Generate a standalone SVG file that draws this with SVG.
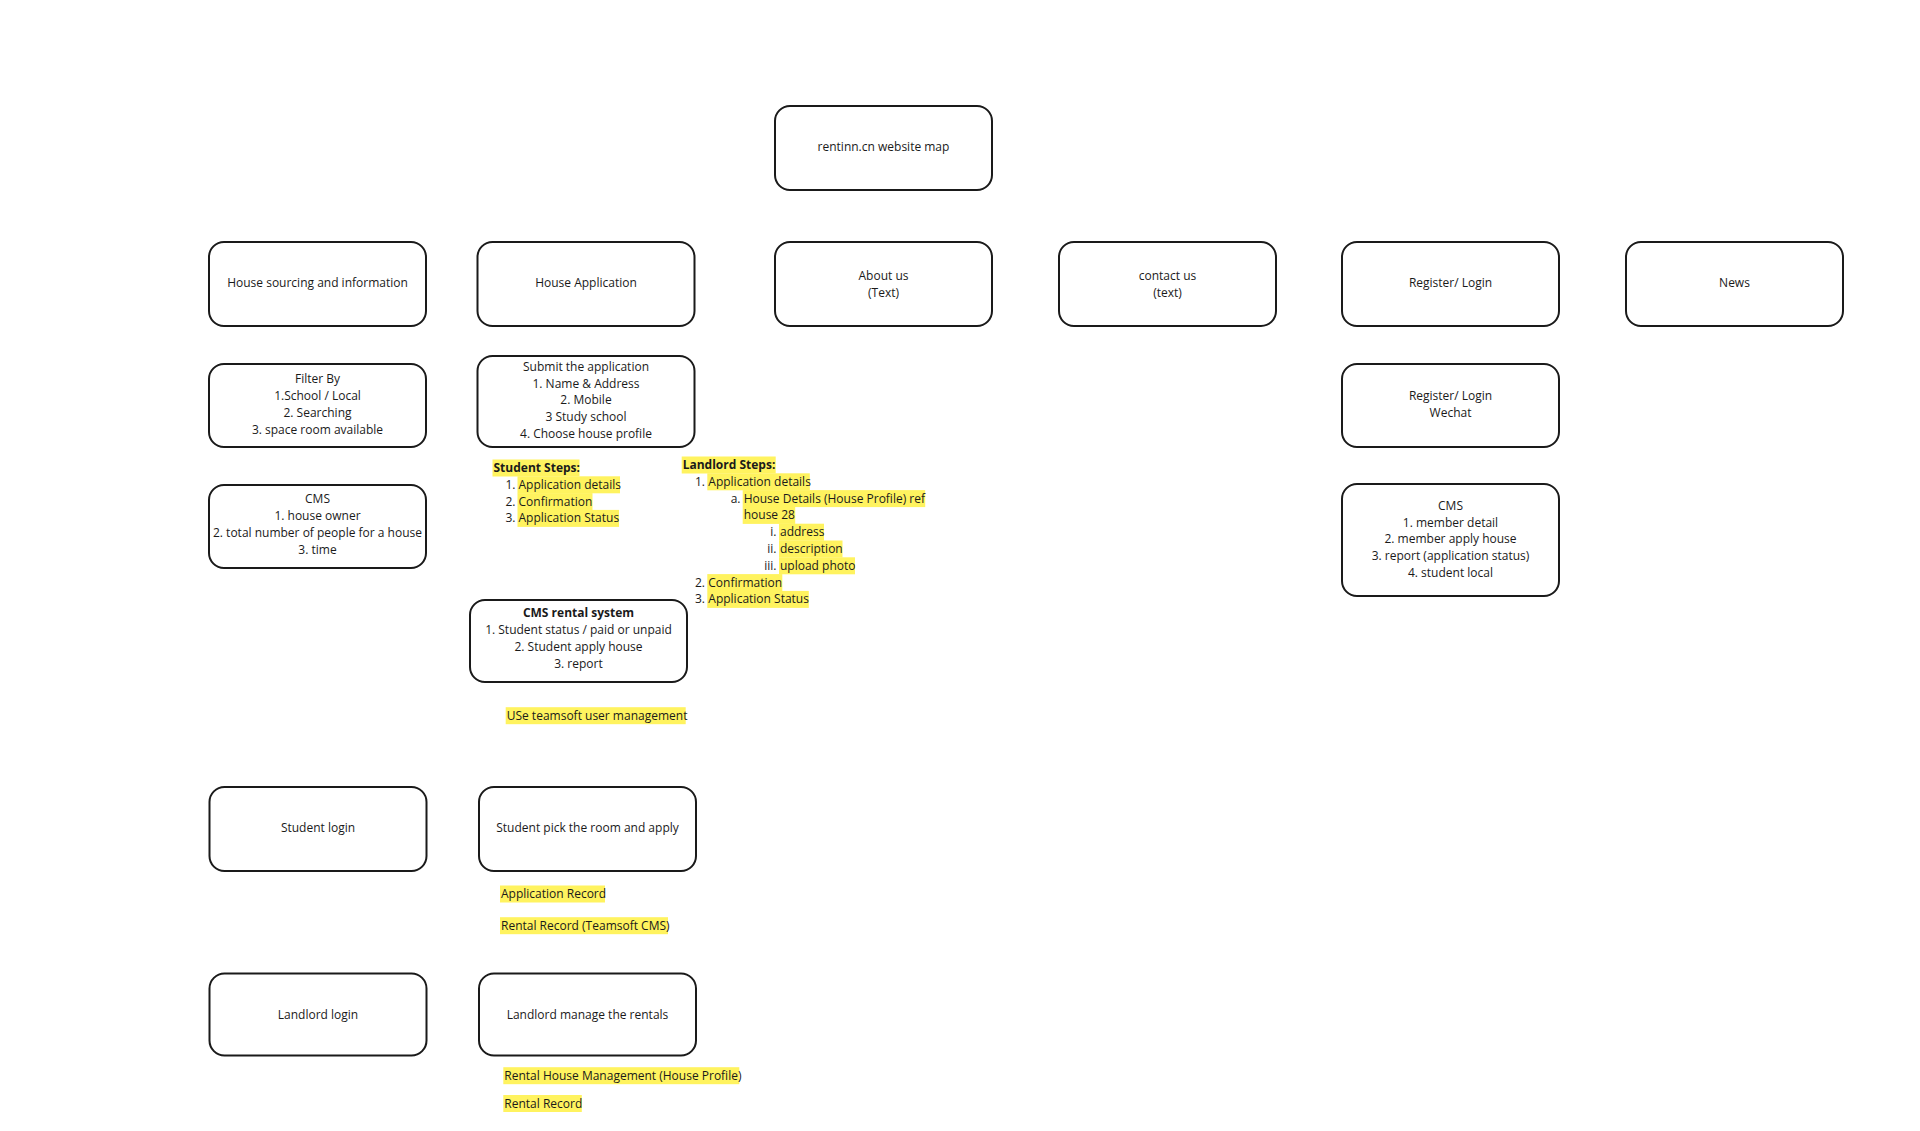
<svg xmlns="http://www.w3.org/2000/svg" width="1920" height="1131" viewBox="0 0 1920 1131">
<style>
.box{fill:#ffffff;stroke:#1a1a1a;stroke-width:2}
text{font-family:"Open Sans","Noto Sans","Liberation Sans",sans-serif;font-size:12px;fill:#1a1a1a}
.c{text-anchor:middle}
.e{text-anchor:end}
.b{font-weight:bold}
.hl{fill:#fff35f}
</style>
<rect x="0" y="0" width="1920" height="1131" fill="#ffffff"/>
<g id="connectors"/>

<g id="node-root">
<rect class="box" x="775" y="106" width="217" height="84" rx="15"/>
<text class="c" x="883.5" y="151">rentinn.cn website map</text>
</g>

<g id="node-house-sourcing">
<rect class="box" x="209" y="242" width="217" height="84" rx="15"/>
<text class="c" x="317.5" y="287">House sourcing and information</text>
</g>
<g id="node-house-application">
<rect class="box" x="477.5" y="242" width="217" height="84" rx="15"/>
<text class="c" x="586" y="287">House Application</text>
</g>
<g id="node-about">
<rect class="box" x="775" y="242" width="217" height="84" rx="15"/>
<text class="c" x="883.5" y="279.5">About us</text>
<text class="c" x="883.5" y="296.5">(Text)</text>
</g>
<g id="node-contact">
<rect class="box" x="1059" y="242" width="217" height="84" rx="15"/>
<text class="c" x="1167.5" y="279.5">contact us</text>
<text class="c" x="1167.5" y="296.5">(text)</text>
</g>
<g id="node-register">
<rect class="box" x="1342" y="242" width="217" height="84" rx="15"/>
<text class="c" x="1450.5" y="287">Register/ Login</text>
</g>
<g id="node-news">
<rect class="box" x="1626" y="242" width="217" height="84" rx="15"/>
<text class="c" x="1734.5" y="287">News</text>
</g>

<g id="node-filter">
<rect class="box" x="209" y="364" width="217" height="83" rx="15"/>
<text class="c" x="317.5" y="383.3">Filter By</text>
<text class="c" x="317.5" y="400.1">1.School / Local</text>
<text class="c" x="317.5" y="416.9">2. Searching</text>
<text class="c" x="317.5" y="433.7">3. space room available</text>
</g>
<g id="node-submit">
<rect class="box" x="477.5" y="356" width="217" height="91" rx="15"/>
<text class="c" x="586" y="370.7">Submit the application</text>
<text class="c" x="586" y="387.5">1. Name &amp; Address</text>
<text class="c" x="586" y="404.3">2. Mobile</text>
<text class="c" x="586" y="421.1">3 Study school</text>
<text class="c" x="586" y="437.9">4. Choose house profile</text>
</g>
<g id="node-register-wechat">
<rect class="box" x="1342" y="364" width="217" height="83" rx="15"/>
<text class="c" x="1450.5" y="399.7">Register/ Login</text>
<text class="c" x="1450.5" y="416.5">Wechat</text>
</g>

<g id="node-cms-left">
<rect class="box" x="209" y="485" width="217" height="83" rx="15"/>
<text class="c" x="317.5" y="503.3">CMS</text>
<text class="c" x="317.5" y="520.1">1. house owner</text>
<text class="c" x="317.5" y="536.9">2. total number of people for a house</text>
<text class="c" x="317.5" y="553.7">3. time</text>
</g>
<g id="node-cms-right">
<rect class="box" x="1342" y="484" width="217" height="112" rx="15"/>
<text class="c" x="1450.5" y="509.7">CMS</text>
<text class="c" x="1450.5" y="526.5">1. member detail</text>
<text class="c" x="1450.5" y="543.3">2. member apply house</text>
<text class="c" x="1450.5" y="560.1">3. report (application status)</text>
<text class="c" x="1450.5" y="576.9">4. student local</text>
</g>

<g id="node-student-steps">
<rect class="hl" x="492.5" y="459.5" width="87" height="17"/>
<text class="b" x="493.5" y="472.3">Student Steps:</text>
<text class="e" x="515.5" y="488.8">1.</text>
<rect class="hl" x="517.5" y="476.3" width="102.5" height="17"/>
<text x="518.5" y="488.8">Application details</text>
<text class="e" x="515.5" y="505.6">2.</text>
<rect class="hl" x="517.5" y="493.1" width="75" height="17"/>
<text x="518.5" y="505.6">Confirmation</text>
<text class="e" x="515.5" y="522.4">3.</text>
<rect class="hl" x="517.5" y="509.9" width="101.5" height="17"/>
<text x="518.5" y="522.4">Application Status</text>
</g>

<g id="node-landlord-steps">
<rect class="hl" x="681.7" y="456.5" width="94" height="17"/>
<text class="b" x="682.7" y="469.2">Landlord Steps:</text>
<text class="e" x="705" y="485.9">1.</text>
<rect class="hl" x="707.3" y="473.3" width="102.5" height="17"/>
<text x="708.3" y="485.9">Application details</text>
<text class="e" x="740.5" y="502.6">a.</text>
<rect class="hl" x="742.7" y="490.1" width="182.5" height="17"/>
<text x="743.7" y="502.6">House Details (House Profile) ref</text>
<rect class="hl" x="742.7" y="506.9" width="52.5" height="17"/>
<text x="743.7" y="519.4">house 28</text>
<text class="e" x="776.5" y="536.2">i.</text>
<rect class="hl" x="779" y="523.7" width="45" height="17"/>
<text x="780" y="536.2">address</text>
<text class="e" x="776.5" y="553">ii.</text>
<rect class="hl" x="779" y="540.5" width="63.5" height="17"/>
<text x="780" y="553">description</text>
<text class="e" x="776.5" y="569.8">iii.</text>
<rect class="hl" x="779" y="557.3" width="76" height="17"/>
<text x="780" y="569.8">upload photo</text>
<text class="e" x="705" y="586.6">2.</text>
<rect class="hl" x="707.3" y="574.1" width="75" height="17"/>
<text x="708.3" y="586.6">Confirmation</text>
<text class="e" x="705" y="603.4">3.</text>
<rect class="hl" x="707.3" y="590.9" width="101.5" height="17"/>
<text x="708.3" y="603.4">Application Status</text>
</g>

<g id="node-cms-rental">
<rect class="box" x="470" y="600" width="217" height="82" rx="15"/>
<text class="c b" x="578.5" y="617.3">CMS rental system</text>
<text class="c" x="578.5" y="634.1">1. Student status / paid or unpaid</text>
<text class="c" x="578.5" y="650.9">2. Student apply house</text>
<text class="c" x="578.5" y="667.7">3. report</text>
</g>

<g id="node-teamsoft-note">
<rect class="hl" x="505.7" y="707.2" width="180" height="17"/>
<text x="506.7" y="719.7">USe teamsoft user management</text>
</g>

<g id="node-student-login">
<rect class="box" x="209.5" y="787" width="217" height="84" rx="15"/>
<text class="c" x="318" y="831.5">Student login</text>
</g>
<g id="node-student-pick">
<rect class="box" x="479" y="787" width="217" height="84" rx="15"/>
<text class="c" x="587.5" y="831.5">Student pick the room and apply</text>
</g>
<g id="node-student-records">
<rect class="hl" x="500" y="885.5" width="105" height="17"/>
<text x="501" y="898">Application Record</text>
<rect class="hl" x="500" y="917.2" width="168" height="17"/>
<text x="501" y="929.7">Rental Record (Teamsoft CMS)</text>
</g>

<g id="node-landlord-login">
<rect class="box" x="209.5" y="973.5" width="217" height="82" rx="15"/>
<text class="c" x="318" y="1018.5">Landlord login</text>
</g>
<g id="node-landlord-manage">
<rect class="box" x="479" y="973.5" width="217" height="82" rx="15"/>
<text class="c" x="587.5" y="1018.5">Landlord manage the rentals</text>
</g>
<g id="node-landlord-records">
<rect class="hl" x="503.3" y="1067.2" width="236" height="17"/>
<text x="504.3" y="1079.7">Rental House Management (House Profile)</text>
<rect class="hl" x="503.3" y="1095" width="78.5" height="17"/>
<text x="504.3" y="1107.5">Rental Record</text>
</g>
</svg>
